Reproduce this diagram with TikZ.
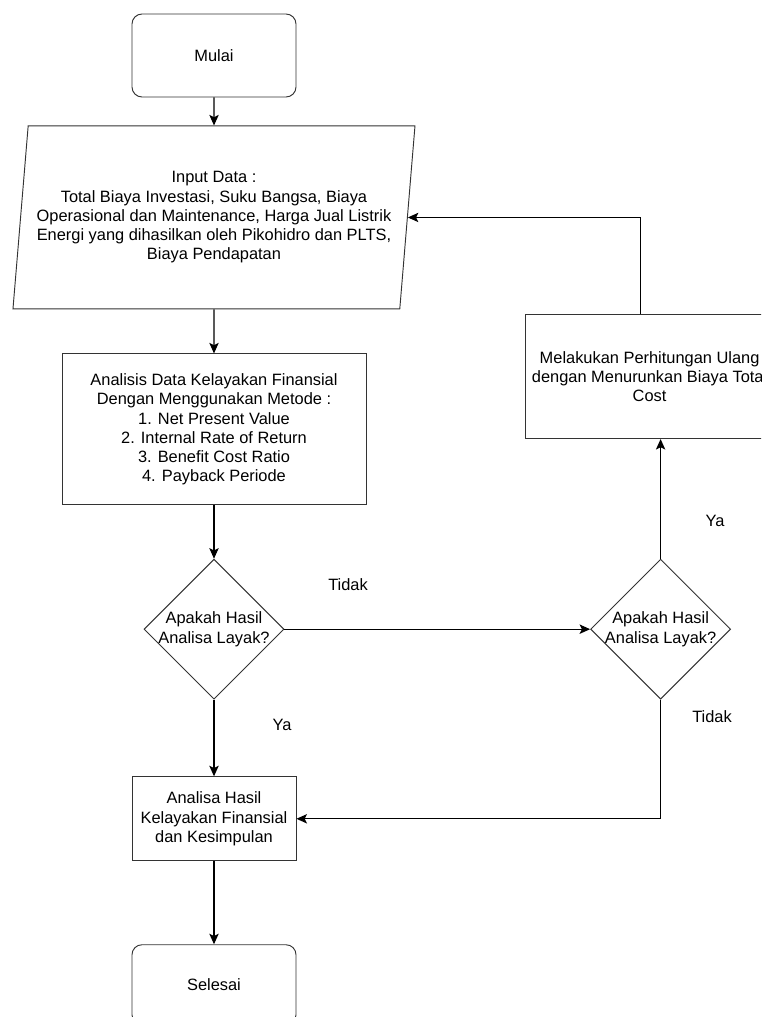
\documentclass[tikz,border=0pt]{standalone}
\usepackage{xcolor}
\usepackage{fontspec}
\setmainfont{Liberation Sans}
\usepackage{tikz}
\usetikzlibrary{positioning, shapes.geometric, arrows.meta}

\begin{document}
\begin{tikzpicture}[
    font=\fontsize{14}{16.4}\selectfont,
    terminal/.style={draw=black!80, line width=0.8, rounded corners=0.3cm, minimum width=4.92cm, text centered},
    process/.style={draw=black!80, line width=0.8, align=center},
    io/.style={trapezium, trapezium left angle=81.3, trapezium right angle=98.7, trapezium stretches body, draw=black!80, line width=0.8, align=center},
    decision/.style={diamond, draw=black!80, line width=0.8, minimum width=4.2cm, minimum height=4.2cm, inner sep=0pt},
    >={Stealth[length=9pt, width=8pt, inset=2pt]}
]
\useasboundingbox (0,0) rectangle (22.83,-30.51);
\clip (0,0) rectangle (22.83,-30.51);

% nodes %
\node[terminal, minimum height=2.49cm] (mulai) at (6.42,-1.665) {Mulai};
\node[io, below = 0.84cm of mulai, minimum width=12.06cm, minimum height=5.49cm] (input) {Input Data :\\Total Biaya Investasi, Suku Bangsa, Biaya\\Operasional dan Maintenance, Harga Jual Listrik\\Energi yang dihasilkan oleh Pikohidro dan PLTS,\\Biaya Pendapatan};
\node[process, below = 1.32cm of input, minimum width=9.12cm, minimum height=4.53cm] (analisis) {Analisis Data Kelayakan Finansial\\Dengan Menggunakan Metode :\\1. Net Present Value\\2. Internal Rate of Return\\3. Benefit Cost Ratio\\4. Payback Periode};
\node[decision, below = 1.6cm of analisis, label={[align=center]center:Apakah Hasil\\Analisa Layak?}] (d1) {};
\node[decision, right = 9.17cm of d1, label={[align=center]center:Apakah Hasil\\Analisa Layak?}] (d2) {};
\node[process, above = 3.59cm of d2, xshift=-0.33cm, minimum width=7.44cm, minimum height=3.72cm] (redo) {Melakukan Perhitungan Ulang\\dengan Menurunkan Biaya Total\\Cost};
\node[process, below = 2.3cm of d1, minimum width=4.92cm, minimum height=2.52cm] (hasil) {Analisa Hasil\\Kelayakan Finansial\\dan Kesimpulan};
\node[terminal, below = 2.49cm of hasil, minimum height=2.4cm] (selesai) {Selesai};

% labels %
\node (tidakA) at (10.44,-17.55) {Tidak};
\node (yaA) at (8.46,-21.75) {Ya};
\node (yaB) at (21.45,-15.63) {Ya};
\node (tidakB) at (21.36,-21.51) {Tidak};

% edges %
\draw[->, line width=1] (mulai) -- (input);
\draw[->, line width=1] (input) -- (analisis);
\draw[->, line width=1] (analisis) -- (d1);
\draw[->, line width=1] (d1) -- (hasil);
\draw[->, line width=1] (hasil) -- (selesai);
\draw[->, line width=1] (d1) -- (d2);
\draw[->, line width=1] (d2) -- (d2 |- redo.south);
\draw[->, line width=1] ([xshift=-0.27cm]redo.north) |- (input.east);
\draw[->, line width=1] (d2) |- (hasil);

\end{tikzpicture}
\end{document}
